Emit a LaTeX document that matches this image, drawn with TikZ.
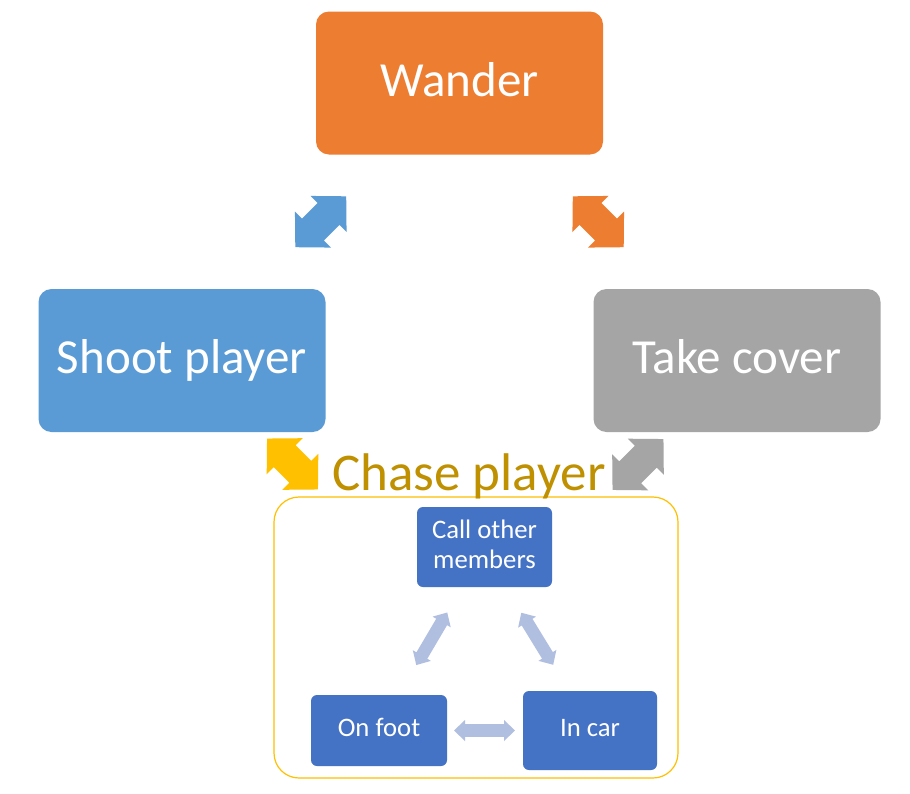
\documentclass[tikz,border=0pt]{standalone}
\usepackage{fontspec}
\setmainfont{Carlito}
\usetikzlibrary{calc}
\definecolor{cOrange}{HTML}{ED7D31}
\definecolor{cBlue}{HTML}{5B9BD5}
\definecolor{cGray}{HTML}{A5A5A5}
\definecolor{cGold}{HTML}{FFC000}
\definecolor{cGoldText}{HTML}{BF9000}
\definecolor{cDark}{HTML}{4472C4}
\definecolor{cLight}{HTML}{B0BEE0}
\newcommand{\blockarrow}[7]{%
  \fill[#1, shift={#2}, rotate=#3] (-#4,0) -- ({-#4+#5},#6) -- ({-#4+#5},#7) -- ({#4-#5},#7) -- ({#4-#5},#6) -- (#4,0) -- ({#4-#5},-#6) -- ({#4-#5},-#7) -- ({-#4+#5},-#7) -- ({-#4+#5},-#6) -- cycle;}
\tikzset{
  bigbox/.style={rectangle, rounded corners=13pt, inner sep=0pt, text=white,
    minimum width=287pt, minimum height=143pt, font=\fontsize{49}{60}\selectfont,
    text height=32pt, text depth=6pt},
  smallbox/.style={rectangle, rounded corners=6pt, inner sep=0pt, text=white, fill=cDark,
    align=center, font=\fontsize{26.7}{30}\selectfont,
    text height=16pt, text depth=3.6pt},
}
\begin{document}
\begin{tikzpicture}[x=1pt,y=-1pt]
\useasboundingbox[fill=white] (0,0) rectangle (910,793);
\node[bigbox, fill=cOrange] (wander) at (459.5,83) {Wander};
\node[bigbox, fill=cBlue] (shoot) at (182,360.5) {Shoot player};
\node[bigbox, fill=cGray] (cover) at (737,360.5) {Take cover};
\draw[cGold, line width=1.2pt, rounded corners=25pt] (274,497) rectangle (678,778);
\node[anchor=base, text=cGoldText, inner sep=0pt, font=\fontsize{53}{60}\selectfont] (chase) at (469,490) {Chase player};
\node[smallbox, minimum width=135pt, minimum height=80pt, text height=45.6pt] (call) at (484.5,547) {Call other\\members};
\node[smallbox, minimum width=136pt, minimum height=71pt] (foot) at (379,730.5) {On foot};
\node[smallbox, minimum width=134pt, minimum height=79pt] (car) at (590,730.5) {In car};
\coordinate (ws) at ($(wander)!0.5!(shoot)$);
\coordinate (wc) at ($(wander)!0.5!(cover)$);
\coordinate (sc) at (292.5,464);
\coordinate (cc) at (638,464.5);
\coordinate (cf) at ($(call)!0.5!(foot)$);
\coordinate (ccar) at ($(call)!0.5!(car)$);
\coordinate (fc) at ($(foot)!0.5!(car)$);
\blockarrow{cBlue}{(ws)}{45}{36}{25}{25.5}{15.5}
\blockarrow{cOrange}{(wc)}{-45}{36}{25}{25.5}{15.5}
\blockarrow{cGold}{(sc)}{-45}{36}{25}{25.5}{15.5}
\blockarrow{cGray}{(cc)}{45}{36}{25}{25.5}{15.5}
\blockarrow{cLight}{(cf)}{59.5}{30.5}{11}{10.5}{6.3}
\blockarrow{cLight}{(ccar)}{-58.5}{30.5}{11}{10.5}{6.3}
\blockarrow{cLight}{(fc)}{0}{30.5}{11}{10.5}{6.3}
\end{tikzpicture}
\end{document}
